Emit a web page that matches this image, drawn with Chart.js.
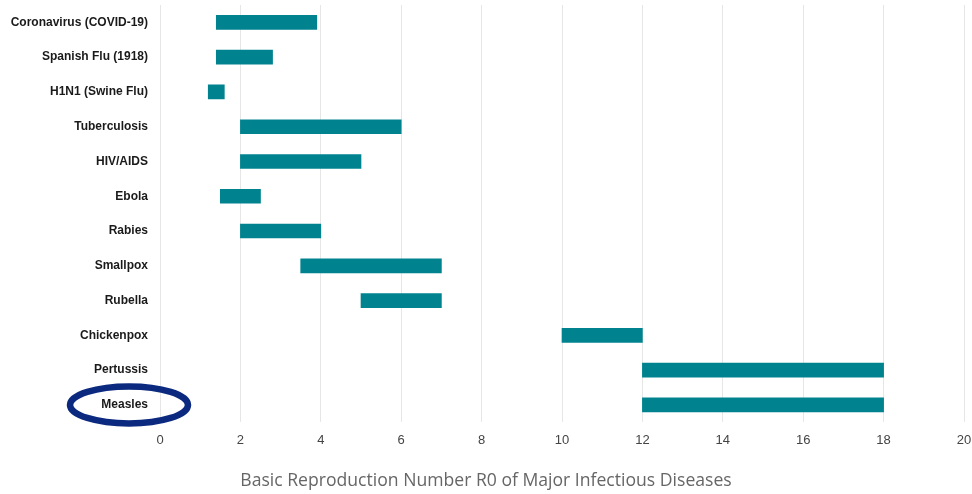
<!DOCTYPE html>
<html>
<head>
<meta charset="utf-8">
<script src="https://cdn.jsdelivr.net/npm/chart.js@4/dist/chart.umd.min.js"></script>
<style>
  html, body { margin: 0; padding: 0; background: #ffffff; }
  #wrap { width: 972px; height: 494px; }
</style>
</head>
<body>
<div id="wrap"><canvas id="c" width="972" height="494"></canvas></div>
<script>
// Diseases and their range of basic reproduction number (R0)
const diseases = [
  'Coronavirus (COVID-19)', 'Spanish Flu (1918)', 'H1N1 (Swine Flu)', 'Tuberculosis',
  'HIV/AIDS', 'Ebola', 'Rabies', 'Smallpox', 'Rubella', 'Chickenpox', 'Pertussis', 'Measles'
];
const r0Low  = [1.4, 1.4, 1.2, 2, 2, 1.5, 2, 3.5, 5, 10, 12, 12];
const r0High = [3.9, 2.8, 1.6, 6, 5, 2.5, 4, 7, 7, 12, 18, 18];
const xTicks = [0, 2, 4, 6, 8, 10, 12, 14, 16, 18, 20];
const highlighted = 'Measles';

const ranges = diseases.map((d, i) => [r0Low[i], r0High[i]]);

// Draws an oval around the highlighted category label
const labelOval = {
  id: 'labelOval',
  afterDraw(chart) {
    const y = chart.scales.y;
    const idx = diseases.indexOf(highlighted);
    const cy = y.getPixelForValue(idx);
    const cx = y.right - 31;
    const ctx = chart.ctx;
    ctx.save();
    ctx.beginPath();
    ctx.ellipse(cx, cy, 59, 18.5, 0, 0, Math.PI * 2);
    ctx.lineWidth = 6.5;
    ctx.strokeStyle = '#0b2a7f';
    ctx.stroke();
    ctx.restore();
  }
};

new Chart(document.getElementById('c'), {
  type: 'bar',
  data: {
    labels: diseases,
    datasets: [{
      data: ranges,
      backgroundColor: '#00838f',
      borderWidth: 0,
      borderSkipped: false,
      barThickness: 14
    }]
  },
  options: {
    indexAxis: 'y',
    responsive: false,
    animation: false,
    devicePixelRatio: 1,
    layout: { padding: { top: 5, right: 0, left: 0, bottom: 2 } },
    plugins: {
      legend: { display: false },
      tooltip: { enabled: false },
      title: {
        display: true,
        position: 'bottom',
        text: 'Basic Reproduction Number R0 of Major Infectious Diseases',
        color: '#666666',
        font: { family: '"Open Sans", sans-serif', size: 17.6, weight: 'normal' },
        padding: { top: 13, bottom: 0 }
      }
    },
    scales: {
      x: {
        min: 0,
        max: 20,
        afterBuildTicks(scale) { scale.ticks = xTicks.map(v => ({ value: v })); },
        afterFit(scale) {
          scale.paddingLeft = 0;
          scale.paddingRight = 8;
        },
        grid: { color: '#e6e6e6', lineWidth: 1, drawTicks: false },
        border: { display: false },
        ticks: {
          color: '#444444',
          padding: 10,
          font: { family: '"Liberation Sans", sans-serif', size: 13 }
        }
      },
      y: {
        afterFit(scale) {
          scale.width = 160;
          scale.paddingTop = 0;
          scale.paddingBottom = 0;
        },
        grid: { display: false, drawTicks: false },
        border: { display: false },
        ticks: {
          color: '#1a1a1a',
          padding: 12,
          font: { family: '"Liberation Sans", sans-serif', size: 12, weight: 'bold' }
        }
      }
    }
  },
  plugins: [labelOval]
});
</script>
</body>
</html>
